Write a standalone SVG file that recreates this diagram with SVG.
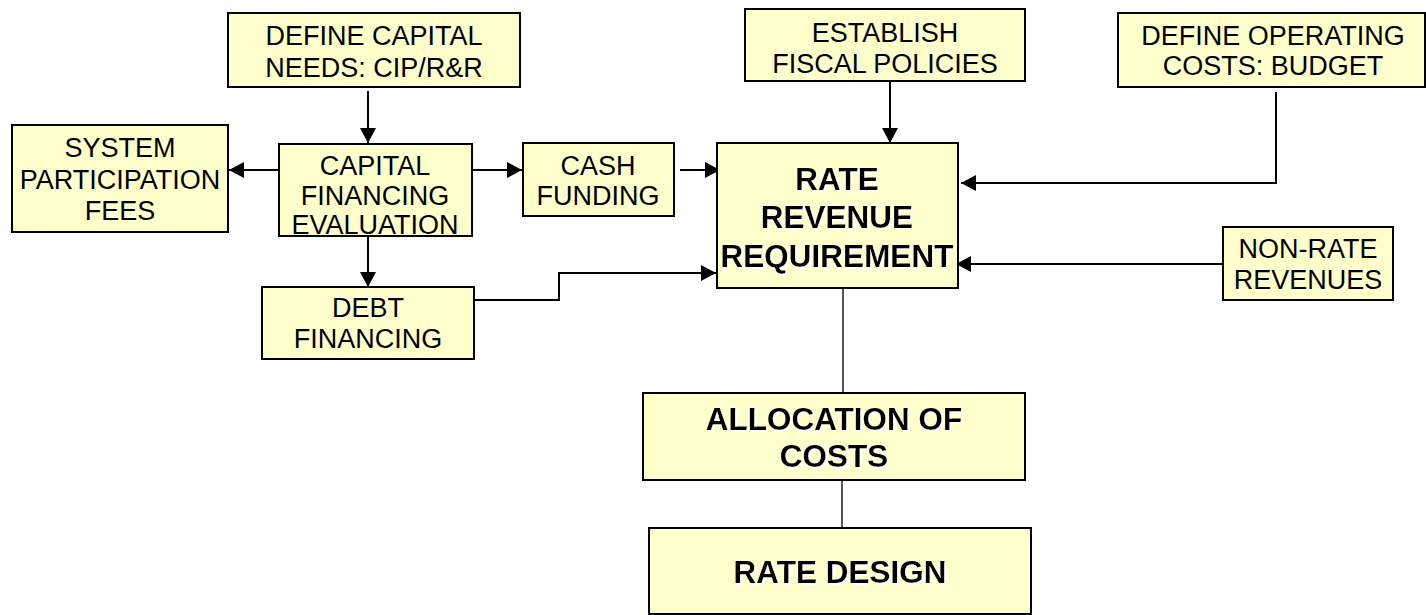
<svg xmlns="http://www.w3.org/2000/svg" width="1426" height="615" viewBox="0 0 1426 615">
<style>
.box{fill:#FFFFCC;stroke:#000;stroke-width:2}
.t{font-family:"Liberation Sans",Arial,sans-serif;font-size:27px;fill:#000;text-anchor:middle}
.b{font-family:"Liberation Sans",Arial,sans-serif;font-size:31.5px;font-weight:bold;fill:#000;text-anchor:middle;filter:url(#ws)}
.c{fill:none;stroke:#000;stroke-width:2}
.g{fill:none;stroke:#555;stroke-width:2}
</style>
<defs>
<marker id="ah" viewBox="0 0 15 16" refX="15" refY="8" markerWidth="15" markerHeight="16" markerUnits="userSpaceOnUse" orient="auto">
<path d="M0,0 L15,8 L0,16 Z" fill="#000"/>
</marker>
<filter id="ws" x="-5%" y="-20%" width="110%" height="140%">
<feDropShadow dx="2" dy="2" stdDeviation="0" flood-color="#fff"/>
</filter>
</defs>
<rect width="1426" height="615" fill="#fff"/>
<g id="connectors">
<path class="c" d="M368,91 V143" marker-end="url(#ah)"/>
<path class="c" d="M279,170 H229" marker-end="url(#ah)"/>
<path class="c" d="M472,170 H522" marker-end="url(#ah)"/>
<path class="c" d="M680,170 H720" marker-end="url(#ah)"/>
<path class="c" d="M368,236 V287" marker-end="url(#ah)"/>
<path class="c" d="M474,300 H559 V273 H716" marker-end="url(#ah)"/>
<path class="c" d="M890,82 V143" marker-end="url(#ah)"/>
<path class="c" d="M1276,92 V183 H961" marker-end="url(#ah)"/>
<path class="c" d="M1223,264 H956" marker-end="url(#ah)"/>
<path class="g" d="M843,289 V393"/>
<path class="g" d="M842,481 V528"/>
</g>
<g id="define-capital">
<rect class="box" x="228" y="13" width="292" height="74"/>
<text class="t" x="374" y="45">DEFINE CAPITAL</text>
<text class="t" x="374" y="77">NEEDS: CIP/R&amp;R</text>
</g>
<g id="capital-financing">
<rect class="box" x="279" y="144" width="193" height="92"/>
<text class="t" x="375" y="175">CAPITAL</text>
<text class="t" x="375" y="205">FINANCING</text>
<text class="t" x="375" y="234">EVALUATION</text>
</g>
<g id="system-participation">
<rect class="box" x="12" y="125" width="216" height="107"/>
<text class="t" x="120" y="157">SYSTEM</text>
<text class="t" x="120" y="189">PARTICIPATION</text>
<text class="t" x="120" y="220">FEES</text>
</g>
<g id="cash-funding">
<rect class="box" x="523" y="143" width="151" height="73"/>
<text class="t" x="598" y="175">CASH</text>
<text class="t" x="598" y="205">FUNDING</text>
</g>
<g id="debt-financing">
<rect class="box" x="262" y="287" width="212" height="72"/>
<text class="t" x="368" y="317">DEBT</text>
<text class="t" x="368" y="348">FINANCING</text>
</g>
<g id="establish-fiscal">
<rect class="box" x="745" y="9" width="280" height="72"/>
<text class="t" x="885" y="42">ESTABLISH</text>
<text class="t" x="885" y="73">FISCAL POLICIES</text>
</g>
<g id="define-operating">
<rect class="box" x="1118" y="13" width="307" height="74"/>
<text class="t" x="1273" y="45">DEFINE OPERATING</text>
<text class="t" x="1273" y="75">COSTS: BUDGET</text>
</g>
<g id="rate-revenue">
<rect class="box" x="717" y="143" width="241" height="145"/>
<text class="b" x="837" y="190">RATE</text>
<text class="b" x="837" y="228">REVENUE</text>
<text class="b" x="837" y="267">REQUIREMENT</text>
</g>
<g id="non-rate">
<rect class="box" x="1223" y="227" width="170" height="73"/>
<text class="t" x="1308" y="258">NON-RATE</text>
<text class="t" x="1308" y="289">REVENUES</text>
</g>
<g id="allocation">
<rect class="box" x="643" y="393" width="382" height="87"/>
<text class="b" x="834" y="430">ALLOCATION OF</text>
<text class="b" x="834" y="467">COSTS</text>
</g>
<g id="rate-design">
<rect class="box" x="649" y="528" width="382" height="86"/>
<text class="b" x="840" y="583">RATE DESIGN</text>
</g>
</svg>
